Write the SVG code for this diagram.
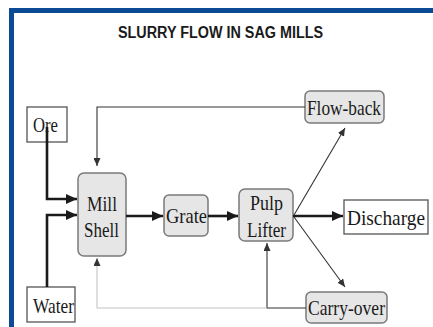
<svg xmlns="http://www.w3.org/2000/svg" width="433" height="327" viewBox="0 0 433 327">
<style>
.lbl{font-family:"Liberation Serif","Times New Roman",serif;font-size:22px;fill:#1a1a1a;text-anchor:middle}
.rbox{fill:#e6e6e6;stroke:#7a7a7a;stroke-width:1.5}
.sbox{fill:#fff;stroke:#555;stroke-width:1.3}
.thick{fill:none;stroke:#1a1a1a;stroke-width:2.6}
.thin{fill:none;stroke:#333;stroke-width:1.1}
.faint{fill:none;stroke:#c4c4c4;stroke-width:1.1}
</style>
<defs>
<marker id="ah" markerUnits="userSpaceOnUse" markerWidth="11" markerHeight="10" refX="11" refY="5" orient="auto"><path d="M0,0 L11,5 L0,10 z" fill="#1a1a1a"/></marker>
<marker id="as" markerUnits="userSpaceOnUse" markerWidth="8" markerHeight="7" refX="8" refY="3.5" orient="auto"><path d="M0,0 L8,3.5 L0,7 z" fill="#333"/></marker>
</defs>
<rect width="433" height="327" fill="#fff"/>
<rect x="9" y="8" width="424" height="5" fill="#0b4a95"/>
<rect x="9" y="8" width="5" height="319" fill="#0b4a95"/>
<text x="220.5" y="38" font-family="Liberation Sans,Arial,sans-serif" font-weight="bold" font-size="16" fill="#1a1a1a" text-anchor="middle" textLength="205" lengthAdjust="spacingAndGlyphs">SLURRY FLOW IN SAG MILLS</text>
<g id="ore"><rect class="sbox" x="27" y="107" width="40" height="35"/><text class="lbl" x="45.5" y="132" textLength="25" lengthAdjust="spacingAndGlyphs">Ore</text></g>
<g id="water"><rect class="sbox" x="27" y="287" width="48" height="35"/><text class="lbl" x="53.5" y="313" textLength="41" lengthAdjust="spacingAndGlyphs">Water</text></g>
<g id="mill-shell"><rect class="rbox" x="78" y="173" width="48" height="83" rx="6"/><text class="lbl" x="102" y="211" textLength="30" lengthAdjust="spacingAndGlyphs">Mill</text><text class="lbl" x="101.5" y="237" textLength="35" lengthAdjust="spacingAndGlyphs">Shell</text></g>
<g id="grate"><rect class="rbox" x="164" y="195" width="44" height="41" rx="5"/><text class="lbl" x="186.5" y="223" textLength="41" lengthAdjust="spacingAndGlyphs">Grate</text></g>
<g id="pulp-lifter"><rect class="rbox" x="239" y="189" width="54" height="52" rx="6"/><text class="lbl" x="266.5" y="210" textLength="33" lengthAdjust="spacingAndGlyphs">Pulp</text><text class="lbl" x="266.5" y="237" textLength="39" lengthAdjust="spacingAndGlyphs">Lifter</text></g>
<g id="discharge"><rect class="sbox" x="344" y="200" width="84" height="34"/><text class="lbl" transform="translate(386,225) scale(0.88,1)" x="0" y="0" font-size="20.5">Discharge</text></g>
<g id="flow-back"><rect class="rbox" x="305" y="91" width="79" height="32" rx="5"/><text class="lbl" x="344" y="115" textLength="74" lengthAdjust="spacingAndGlyphs">Flow-back</text></g>
<g id="carry-over"><rect class="rbox" x="306" y="292" width="81" height="31" rx="5"/><text class="lbl" x="346.5" y="315" textLength="77" lengthAdjust="spacingAndGlyphs">Carry-over</text></g>
<g id="connectors">
<path class="thick" d="M47,127 V199 H77" marker-end="url(#ah)"/>
<path class="thick" d="M47,287 V215 H77" marker-end="url(#ah)"/>
<path class="thin" d="M305,107 H97 V166" marker-end="url(#as)"/>
<path class="thick" d="M126,216 H163" marker-end="url(#ah)"/>
<path class="thick" d="M208,216 H238" marker-end="url(#ah)"/>
<path class="thick" d="M293,216 H343" marker-end="url(#ah)"/>
<path class="thin" d="M294,215 L345,128" marker-end="url(#as)"/>
<path class="thin" d="M294,217 L345,287" marker-end="url(#as)"/>
<path class="thin" d="M306,308 H267 V243" marker-end="url(#as)"/>
<path class="faint" d="M267,308 H97 V258" marker-end="url(#as)"/>
</g>
</svg>
